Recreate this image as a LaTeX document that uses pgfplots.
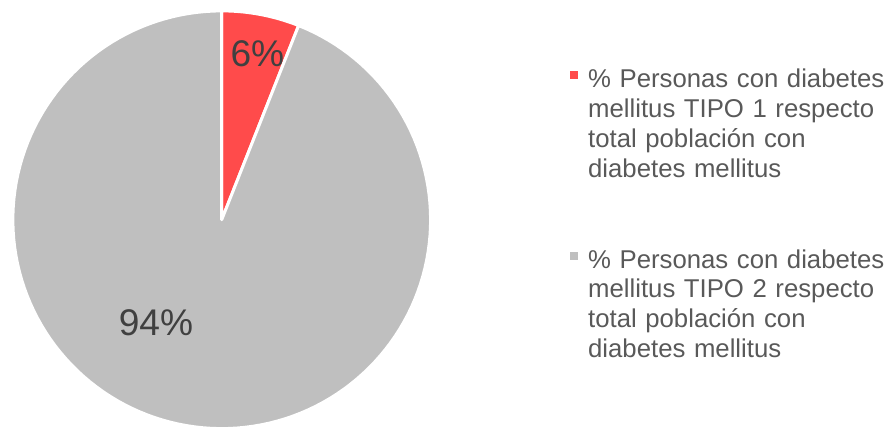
\documentclass[border=0pt]{standalone}
\usepackage{pgfplots}
\pgfplotsset{compat=1.18}
\usepackage{pgfplotstable}
\usepackage{fontspec}
\setmainfont{Liberation Sans}
\definecolor{tipoA}{HTML}{FF4B4B}
\definecolor{tipoB}{HTML}{BFBFBF}
\definecolor{lbl}{HTML}{404040}
\definecolor{leg}{HTML}{595959}
\pgfplotstableread{
tipo pct
1 6
2 94
}\pietable
\pgfplotstablegetelem{0}{pct}\of\pietable \let\pa\pgfplotsretval
\pgfplotstablegetelem{1}{pct}\of\pietable \let\pb\pgfplotsretval
\pgfmathsetmacro\aS{90}
\pgfmathsetmacro\aM{90-3.6*\pa}
\pgfmathsetmacro\aE{90-3.6*(\pa+\pb)}
\begin{document}
\begin{tikzpicture}
\begin{axis}[x=1pt,y=1pt,xmin=0,xmax=895,ymin=0,ymax=434,
  hide axis, clip=false,
  legend style={at={(axis cs:573,376)},anchor=north west,draw=none,fill=none,
    font=\fontsize{26}{30}\selectfont, text=leg, row sep=150pt,
    /tikz/every odd column/.append style={column sep=8pt},
    /tikz/every even column/.append style={text width=305pt,align=left}},
  legend cell align=left]
\path (axis cs:0,0) rectangle (axis cs:895,434);
\addplot[fill=tipoA,draw=white,line width=3pt,line join=round,domain=\aM:\aS,samples=30,variable=\t,
  legend image code/.code={\path[draw=none,fill=none] (0pt,0pt) rectangle (8pt,20pt);
    \path[fill=tipoA,draw=none] (0pt,0pt) rectangle (8pt,8pt);}]
  ({224+211*cos(\t)},{212+211*sin(\t)}) -- (axis cs:224,212) -- cycle;
\addlegendentry{\% Personas con diabetes\\mellitus TIPO 1 respecto\\total población con\\diabetes mellitus}
\addplot[fill=tipoB,draw=white,line width=3pt,line join=round,domain=\aE:\aM,samples=150,variable=\t,
  legend image code/.code={\path[draw=none,fill=none] (0pt,0pt) rectangle (8pt,20pt);
    \path[fill=tipoB,draw=none] (0pt,0pt) rectangle (8pt,8pt);}]
  ({224+211*cos(\t)},{212+211*sin(\t)}) -- (axis cs:224,212) -- cycle;
\addlegendentry{\% Personas con diabetes\\mellitus TIPO 2 respecto\\total población con\\diabetes mellitus}
\node[anchor=base,text=lbl,font=\fontsize{37.5}{40}\selectfont] at (axis cs:260,367) {6\%};
\node[anchor=base,text=lbl,font=\fontsize{37.5}{40}\selectfont] at (axis cs:157.5,95) {94\%};
\end{axis}
\end{tikzpicture}
\end{document}
